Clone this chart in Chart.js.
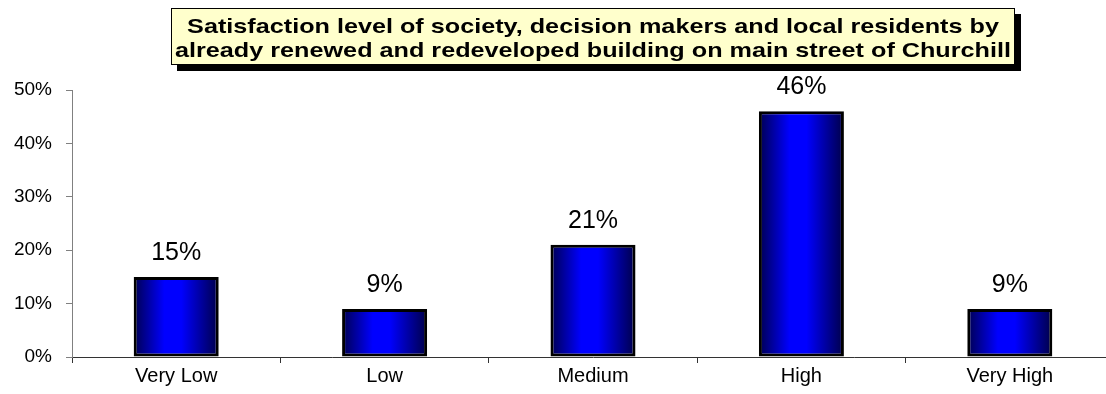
<!DOCTYPE html>
<html>
<head>
<meta charset="utf-8">
<script src="https://cdn.jsdelivr.net/npm/chart.js@4"></script>
<style>
  html, body { margin: 0; padding: 0; background: #fff; overflow: hidden; }
  #wrap { width: 1106px; height: 394px; overflow: hidden; }
  canvas { display: block; }
</style>
</head>
<body>
<div id="wrap">
  <canvas id="myChart" width="1114" height="394" style="width:1114px;height:394px"></canvas>
</div>
<script>
const categories = ['Very Low', 'Low', 'Medium', 'High', 'Very High'];
const satisfaction = [15, 9, 21, 46, 9];
const yMax = 50;
const yStep = 10;
const titleLines = [
  'Satisfaction level of society, decision makers and local residents by',
  'already renewed and redeveloped building on main street of Churchill'
];

const FONT = '"Liberation Sans", Arial, Helvetica, sans-serif';
const BAR_PCT = 0.408;

// dark edges, bright blue middle
function barFill(ctx) {
  const chart = ctx.chart;
  const xs = chart.scales && chart.scales.x;
  if (!xs || ctx.dataIndex === undefined) return '#0000ff';
  const cx = xs.getPixelForValue(ctx.dataIndex);
  const half = (xs.width / categories.length) * BAR_PCT / 2;
  if (!isFinite(cx) || !isFinite(half) || half <= 0) return '#0000ff';
  const g = chart.ctx.createLinearGradient(cx - half, 0, cx + half, 0);
  g.addColorStop(0, '#000050');
  g.addColorStop(0.36, '#0000ff');
  g.addColorStop(0.56, '#0000ff');
  g.addColorStop(1, '#000048');
  return g;
}

const valueLabels = {
  id: 'valueLabels',
  afterDatasetsDraw(chart) {
    const ctx = chart.ctx;
    const meta = chart.getDatasetMeta(0);
    ctx.save();
    ctx.font = '25px ' + FONT;
    ctx.fillStyle = '#000';
    ctx.textAlign = 'center';
    ctx.textBaseline = 'alphabetic';
    meta.data.forEach((bar, i) => {
      ctx.fillText(satisfaction[i] + '%', bar.x, bar.y - 17);
    });
    ctx.restore();
  }
};

// yellow title box with a hard black drop shadow, text slightly widened
const titleBox = {
  id: 'titleBox',
  afterDraw(chart) {
    const ctx = chart.ctx;
    const x = 171, y = 8, w = 844, h = 57, sh = 6;
    ctx.save();
    ctx.fillStyle = '#000';
    ctx.fillRect(x + sh, y + sh, w, h);
    ctx.fillStyle = '#ffffcc';
    ctx.fillRect(x, y, w, h);
    ctx.strokeStyle = '#000';
    ctx.lineWidth = 1;
    ctx.strokeRect(x + 0.5, y + 0.5, w - 1, h - 1);
    ctx.fillStyle = '#000';
    ctx.font = 'bold 21px ' + FONT;
    ctx.textAlign = 'center';
    ctx.textBaseline = 'alphabetic';
    const sx = 1.2;
    ctx.translate(x + w / 2, 0);
    ctx.scale(sx, 1);
    ctx.fillText(titleLines[0], 0, 33);
    ctx.fillText(titleLines[1], 0, 57);
    ctx.restore();
  }
};

new Chart(document.getElementById('myChart'), {
  type: 'bar',
  data: {
    labels: categories,
    datasets: [{
      data: satisfaction,
      backgroundColor: barFill,
      borderColor: '#000',
      borderWidth: 3,
      borderSkipped: false,
      categoryPercentage: 1,
      barPercentage: BAR_PCT
    }]
  },
  options: {
    responsive: false,
    animation: false,
    layout: { padding: { top: 90, left: 0, right: 0, bottom: 0 } },
    plugins: {
      legend: { display: false },
      tooltip: { enabled: false },
      title: { display: false }
    },
    scales: {
      x: {
        grid: {
          offset: true,
          drawOnChartArea: false,
          tickLength: 6,
          tickWidth: 1,
          tickColor: '#333'
        },
        border: { color: '#333', width: 1 },
        ticks: {
          color: '#000',
          font: { family: FONT, size: 20 },
          padding: 1,
          maxRotation: 0
        },
        afterFit(scale) { scale.height = 37; }
      },
      y: {
        min: 0,
        max: yMax,
        grid: {
          drawOnChartArea: false,
          tickLength: 6,
          tickColor: '#808080'
        },
        border: { color: '#808080', width: 1 },
        ticks: {
          stepSize: yStep,
          color: '#000',
          font: { family: FONT, size: 19 },
          padding: 14,
          callback: (v) => v + '%'
        },
        afterFit(scale) { scale.width = 72; }
      }
    }
  },
  plugins: [valueLabels, titleBox]
});
</script>
</body>
</html>
